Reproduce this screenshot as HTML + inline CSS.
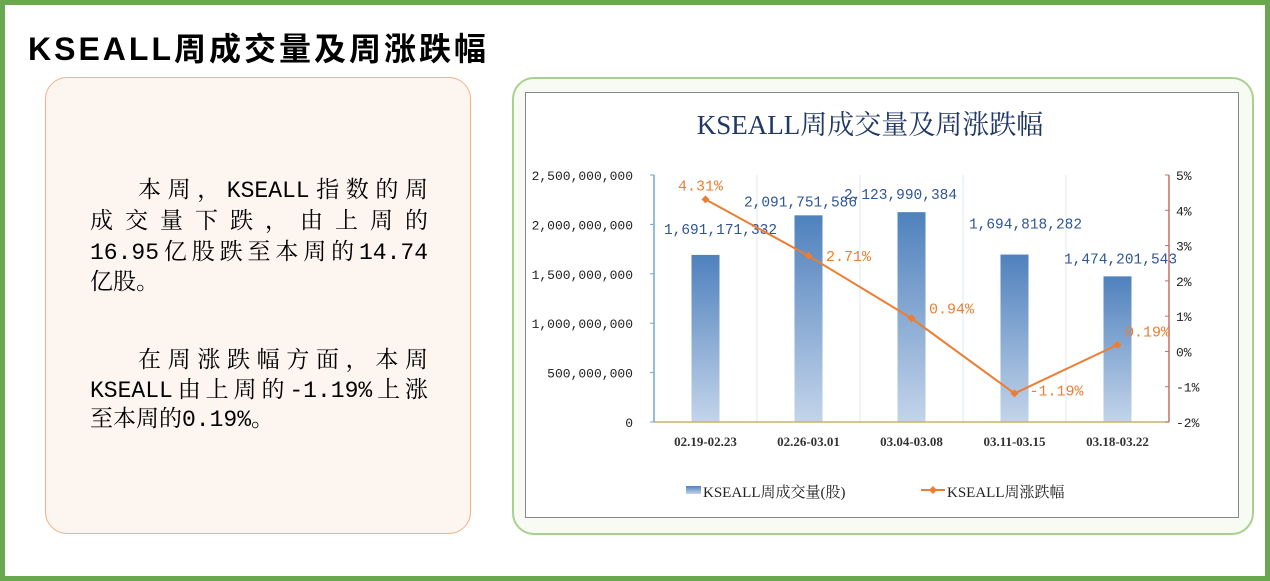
<!DOCTYPE html>
<html><head><meta charset="utf-8">
<style>
body{margin:0;width:1270px;height:581px;overflow:hidden;background:#fff;font-family:"Liberation Serif","Noto Serif CJK SC",serif;}
#outer{position:absolute;left:0;top:0;width:1260px;height:571px;border:5px solid #6aa84f;}
#title{position:absolute;left:28px;top:24px;font-family:"Liberation Sans","Noto Sans CJK SC",sans-serif;font-weight:bold;font-size:32px;color:#000;letter-spacing:3px;}
#leftbox{position:absolute;left:45px;top:77px;width:424px;height:455px;border:1.5px solid #f4b183;border-radius:22px;background:#fdf5f0;}
.ln{position:absolute;left:44px;width:338px;font-family:"Liberation Mono","Noto Serif CJK SC",serif;font-size:23px;line-height:30px;color:#000;white-space:nowrap;}
.j{text-align:justify;text-align-last:justify;}
#rightbox{position:absolute;left:512px;top:77px;width:738px;height:454px;border:2px solid #a9d18e;border-radius:22px;background:#f7fbf4;}
#chartbox{position:absolute;left:525px;top:92px;width:712px;height:424px;border:1px solid #888;background:#fff;}
svg{position:absolute;left:0;top:0;}
.mono{font-family:"Liberation Mono","Noto Serif CJK SC",monospace;}
</style></head><body>
<div id="outer"></div>
<div id="title">KSEALL周成交量及周涨跌幅</div>
<div id="leftbox">
<div class="ln j" style="top:98px;padding-left:48px;width:290px;">本周，KSEALL指数的周</div>
<div class="ln j" style="top:129px;">成交量下跌，由上周的</div>
<div class="ln j" style="top:160px;">16.95亿股跌至本周的14.74</div>
<div class="ln" style="top:190px;">亿股。</div>
<div class="ln j" style="top:268px;padding-left:48px;width:290px;">在周涨跌幅方面，本周</div>
<div class="ln j" style="top:298px;">KSEALL由上周的-1.19%上涨</div>
<div class="ln" style="top:327px;">至本周的0.19%。</div>
</div>
<div id="rightbox"></div>
<div id="chartbox"></div>
<svg id="chart" width="1270" height="581">
<defs><linearGradient id="bg" x1="0" y1="0" x2="0" y2="1"><stop offset="0" stop-color="#4f81bd"/><stop offset="1" stop-color="#c3d4ea"/></linearGradient></defs>
</svg>
<script>
const categories=["02.19-02.23","02.26-03.01","03.04-03.08","03.11-03.15","03.18-03.22"];
const volumes=[1691171332,2091751586,2123990384,1694818282,1474201543];
const changes=[4.31,2.71,0.94,-1.19,0.19];
const volLabels=["1,691,171,332","2,091,751,586","2,123,990,384","1,694,818,282","1,474,201,543"];
const chgLabels=["4.31%","2.71%","0.94%","-1.19%","0.19%"];
const leftTicks=[0,500000000,1000000000,1500000000,2000000000,2500000000];
const leftTickLabels=["0","500,000,000","1,000,000,000","1,500,000,000","2,000,000,000","2,500,000,000"];
const rightTicks=[-2,-1,0,1,2,3,4,5];
const rightTickLabels=["-2%","-1%","0%","1%","2%","3%","4%","5%"];
const svg=document.getElementById('chart');
const NS='http://www.w3.org/2000/svg';
const L=654,R=1169,T=175,B=422;
const band=(R-L)/categories.length;
const xC=i=>L+band*(i+0.5);
const yL=v=>B-(v/2500000000)*(B-T);
const yR=v=>B-((v+2)/7)*(B-T);
function mk(tag,attrs,txt){const e=document.createElementNS(NS,tag);for(const k in attrs)e.setAttribute(k,attrs[k]);if(txt!==undefined)e.textContent=txt;svg.appendChild(e);return e;}
let e=mk('text',{x:870,y:134,'text-anchor':'middle','font-size':27,fill:'#1f3864'},'KSEALL周成交量及周涨跌幅');

for(let i=1;i<categories.length;i++){e=mk('line',{x1:L+band*i,x2:L+band*i,y1:T,y2:B,stroke:'#dce8f4','stroke-width':1});
}
const vOff=[[15,-21],[-8,-9],[-11,-13],[11,-26],[3,-13]];
categories.forEach((c,i)=>{
 const y=yL(volumes[i]);
 e=mk('rect',{x:xC(i)-14,y:y,width:28,height:B-y,fill:'url(#bg)'});
 
 e=mk('text',{x:xC(i)+vOff[i][0],y:y+vOff[i][1],'text-anchor':'middle','font-size':14.5,fill:'#2e5597',class:'mono'},volLabels[i]);
 
 e=mk('text',{x:xC(i),y:446,'text-anchor':'middle','font-size':13,'font-weight':'bold',fill:'#333'},c);
 
});
e=mk('line',{x1:L,x2:R,y1:B,y2:B,stroke:'#c9b26a','stroke-width':1.5});

e=mk('line',{x1:L,x2:L,y1:T,y2:B,stroke:'#6fa8c8','stroke-width':1.5});

e=mk('line',{x1:R,x2:R,y1:T,y2:B,stroke:'#c0706a','stroke-width':1.5});

leftTicks.forEach((v,i)=>{
 e=mk('line',{x1:L-4,x2:L,y1:yL(v),y2:yL(v),stroke:'#6fa8c8'});
 
 e=mk('text',{x:633,y:yL(v)+5,'text-anchor':'end','font-size':13,fill:'#222',class:'mono'},leftTickLabels[i]);
 
});
rightTicks.forEach((v,i)=>{
 e=mk('line',{x1:R-4,x2:R,y1:yR(v),y2:yR(v),stroke:'#c0706a'});
 
 e=mk('text',{x:1176,y:yR(v)+5,'text-anchor':'start','font-size':13,fill:'#222',class:'mono'},rightTickLabels[i]);
 
});
e=mk('polyline',{points:changes.map((v,i)=>xC(i)+','+yR(v)).join(' '),fill:'none',stroke:'#ed7d31','stroke-width':2});

const offs=[[-5,-9],[40,5],[40,-5],[42,2],[30,-8]];
changes.forEach((v,i)=>{
 const x=xC(i),y=yR(v);
 e=mk('polygon',{points:`${x},${y-4} ${x+4},${y} ${x},${y+4} ${x-4},${y}`,fill:'#ed7d31'});
 
 e=mk('text',{x:x+offs[i][0],y:y+offs[i][1],'text-anchor':'middle','font-size':15,fill:'#ed7d31',class:'mono'},chgLabels[i]);
 
});
e=mk('rect',{x:686,y:486,width:15,height:8,fill:'url(#bg)'});

e=mk('text',{x:703,y:497,'font-size':15,fill:'#222'},'KSEALL周成交量(股)');

e=mk('line',{x1:921,x2:945,y1:490,y2:490,stroke:'#ed7d31','stroke-width':2});

e=mk('polygon',{points:'933,486 937,490 933,494 929,490',fill:'#ed7d31'});

e=mk('text',{x:947,y:497,'font-size':15,fill:'#222'},'KSEALL周涨跌幅');

</script>
</body></html>
